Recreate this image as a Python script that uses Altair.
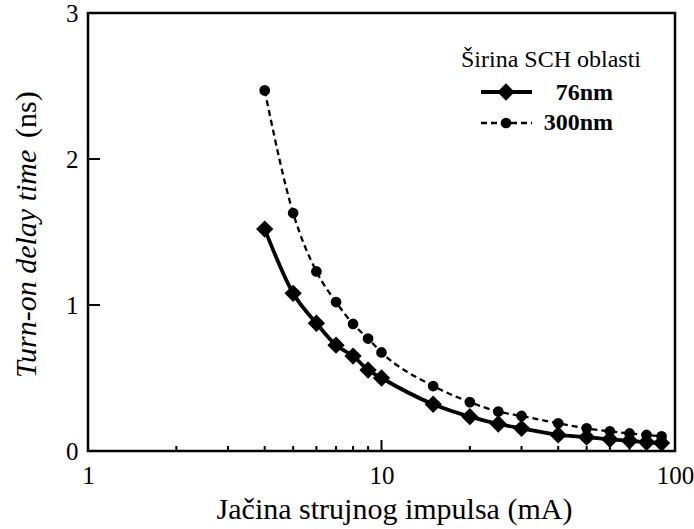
import altair as alt
import pandas as pd

# Pulse current (mA) and turn-on delay time (ns) for two SCH widths
current_ma = [4, 5, 6, 7, 8, 9, 10, 15, 20, 25, 30, 40, 50, 60, 70, 80, 90]
delay_76nm = [1.52, 1.08, 0.875, 0.725, 0.65, 0.555, 0.50, 0.32, 0.235, 0.185,
              0.155, 0.11, 0.095, 0.08, 0.07, 0.06, 0.055]
delay_300nm = [2.47, 1.63, 1.23, 1.02, 0.87, 0.77, 0.675, 0.445, 0.335, 0.27,
               0.24, 0.19, 0.155, 0.135, 0.12, 0.11, 0.10]

# Axis ticks and labels
x_labels = [1, 10, 100]
x_major_ticks = [10]
x_minor_ticks = [2, 3, 4, 5, 6, 7, 8, 9, 20, 30, 40, 50, 60, 70, 80, 90]
y_labels = [0, 1, 2, 3]
y_major_ticks = [1, 2]

FONT = "Liberation Serif"
W, H = 587, 438

df76 = pd.DataFrame({"current": current_ma, "delay": delay_76nm})
df300 = pd.DataFrame({"current": current_ma, "delay": delay_300nm})

x_enc = alt.X(
    "current:Q",
    scale=alt.Scale(type="log", domain=[1, 100], nice=False),
    axis=alt.Axis(
        values=x_labels, format="d", ticks=False, domain=False, grid=False,
        labelFont=FONT, labelFontSize=25, labelColor="black", labelPadding=12,
        labelFlush=False, labelOverlap=False,
        title="Jačina strujnog impulsa (mA)", titleFont=FONT, titleFontSize=30,
        titleFontWeight="normal", titleColor="black", titlePadding=6,
        titleX=306,
    ),
)
y_enc = alt.Y(
    "delay:Q",
    scale=alt.Scale(domain=[0, 3], nice=False),
    axis=alt.Axis(
        values=y_labels, ticks=False, domain=False, grid=False,
        labelFont=FONT, labelFontSize=25, labelColor="black", labelPadding=10,
        labelFlush=False, labelOverlap=False, title=None,
    ),
)

line76 = alt.Chart(df76).mark_line(
    color="black", strokeWidth=3.8, interpolate="monotone"
).encode(x=x_enc, y=y_enc)
pts76 = alt.Chart(df76).mark_point(
    shape="diamond", filled=True, color="black", size=300, opacity=1
).encode(x=x_enc, y=y_enc)

line300 = alt.Chart(df300).mark_line(
    color="black", strokeWidth=2.3, strokeDash=[6, 4], interpolate="monotone"
).encode(x=x_enc, y=y_enc)
pts300 = alt.Chart(df300).mark_point(
    shape="circle", filled=True, color="black", size=115, opacity=1
).encode(x=x_enc, y=y_enc)

# Inward tick marks along the bottom and left edges
xmaj = alt.Chart(pd.DataFrame({"current": x_major_ticks})).mark_rule(
    color="black", strokeWidth=2
).encode(x=x_enc, y=alt.value(H), y2=alt.value(H - 11))
xmin = alt.Chart(pd.DataFrame({"current": x_minor_ticks})).mark_rule(
    color="black", strokeWidth=2
).encode(x=x_enc, y=alt.value(H), y2=alt.value(H - 5))
ymaj = alt.Chart(pd.DataFrame({"delay": y_major_ticks})).mark_rule(
    color="black", strokeWidth=2
).encode(y=y_enc, x=alt.value(0), x2=alt.value(12))

one = pd.DataFrame({"k": [0]})

# Y axis title: italic quantity name followed by upright unit
ytitle_a = alt.Chart(one).mark_text(
    font=FONT, fontSize=30, fontStyle="italic", angle=270, align="left",
    baseline="middle", color="black"
).encode(x=alt.value(-61), y=alt.value(365), text=alt.value("Turn-on delay time"))
ytitle_b = alt.Chart(one).mark_text(
    font=FONT, fontSize=30, angle=270, align="left", baseline="middle",
    color="black"
).encode(x=alt.value(-61), y=alt.value(125), text=alt.value("(ns)"))

# Legend
leg_title = alt.Chart(one).mark_text(
    font=FONT, fontSize=24, align="center", baseline="middle", color="black"
).encode(x=alt.value(463), y=alt.value(47), text=alt.value("Širina SCH oblasti"))
leg_line76 = alt.Chart(one).mark_rule(color="black", strokeWidth=3.8).encode(
    x=alt.value(393), x2=alt.value(444), y=alt.value(79)
)
leg_pt76 = alt.Chart(one).mark_point(
    shape="diamond", filled=True, color="black", size=300, opacity=1
).encode(x=alt.value(418), y=alt.value(79))
leg_txt76 = alt.Chart(one).mark_text(
    font=FONT, fontSize=24, fontWeight="bold", align="right", baseline="middle",
    color="black"
).encode(x=alt.value(525), y=alt.value(80), text=alt.value("76nm"))
leg_line300 = alt.Chart(one).mark_rule(
    color="black", strokeWidth=2.3, strokeDash=[6, 4]
).encode(x=alt.value(393), x2=alt.value(444), y=alt.value(110))
leg_pt300 = alt.Chart(one).mark_point(
    shape="circle", filled=True, color="black", size=115, opacity=1
).encode(x=alt.value(418), y=alt.value(110))
leg_txt300 = alt.Chart(one).mark_text(
    font=FONT, fontSize=24, fontWeight="bold", align="right", baseline="middle",
    color="black"
).encode(x=alt.value(525), y=alt.value(110), text=alt.value("300nm"))

chart = alt.layer(
    line300, line76, pts300, pts76, xmaj, xmin, ymaj,
    ytitle_a, ytitle_b,
    leg_title, leg_line76, leg_pt76, leg_txt76, leg_line300, leg_pt300, leg_txt300,
).properties(
    width=W, height=H,
    padding={"left": 88, "top": 13, "right": 19, "bottom": 78},
    autosize="none",
    background="white",
).configure_view(stroke="black", strokeWidth=2.5)

chart.save("out.html", embed_options={"renderer": "svg", "actions": False})
